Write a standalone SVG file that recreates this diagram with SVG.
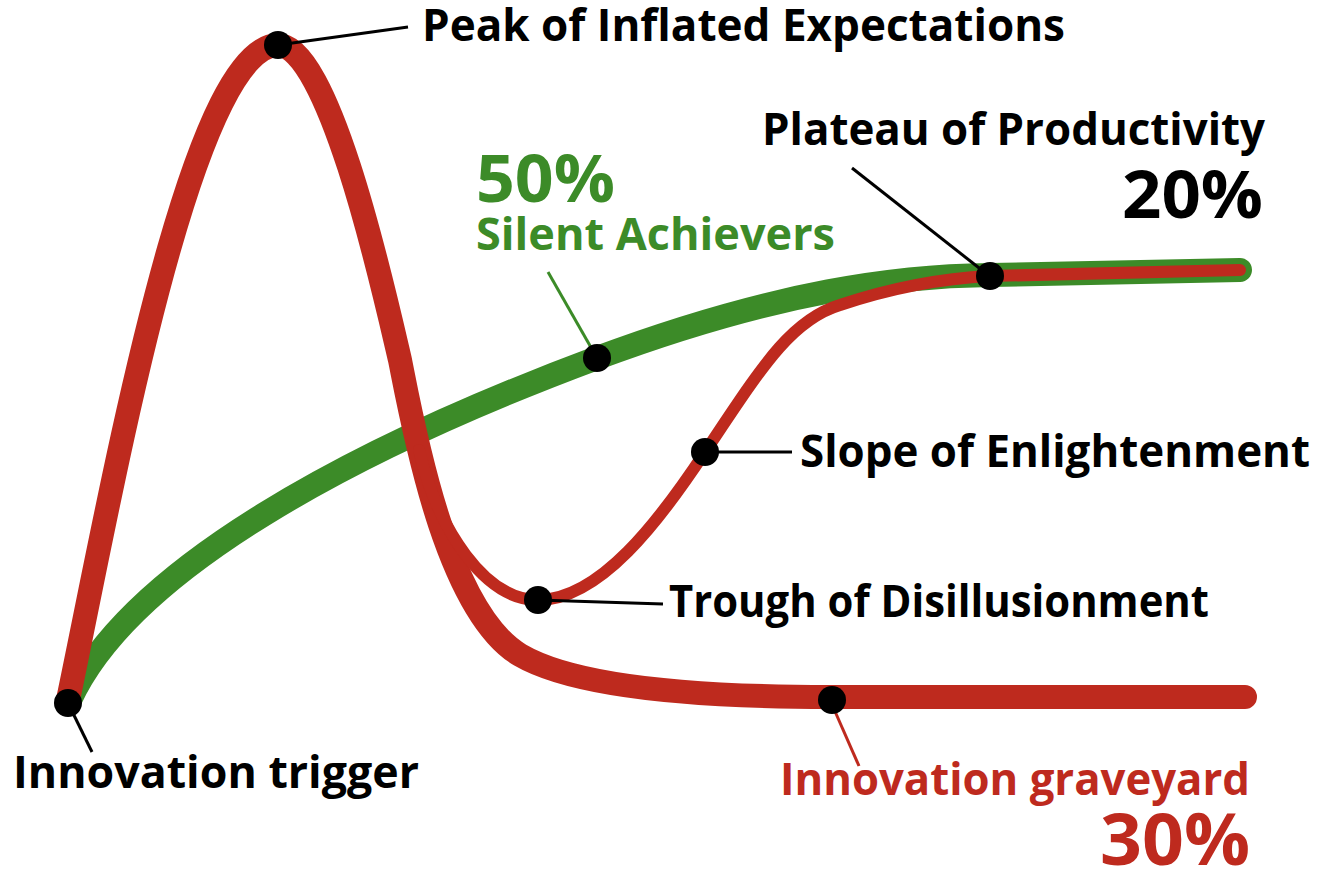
<svg xmlns="http://www.w3.org/2000/svg" width="1322" height="873" viewBox="0 0 1322 873">
<style>
.t{font-family:"Open Sans","Liberation Sans",sans-serif;font-weight:700;}
.lbl{font-size:44px;fill:#000;}
.big{font-size:67px;}
.lead{stroke:#000;stroke-width:3;fill:none;}
.dot{fill:#000;}
</style>
<rect width="1322" height="873" fill="#fff"/>
<g id="curves" fill="none" stroke-linecap="round" stroke-linejoin="round">
<path id="green-curve" d="M70,700 C130,570 350,450 597,358 C780,290 900,276 990,275 L1240,270" stroke="#3C8B28" stroke-width="24"/>
<path id="hype-curve" d="M68,700 C110,500 190,45 278,45 C330,45 385,296 400,360 C412,420 445,610 520,655 C580,690 720,697 830,697 L1245,697" stroke="#BE2A1E" stroke-width="24"/>
<path id="recovery-curve" d="M419,450 C438,530 485,600 538,600 C600,600 660,520 705,452 C760,370 790,320 840,305 C900,285 950,278 990,276 L1240,270" stroke="#BE2A1E" stroke-width="12"/>
</g>
<g id="connectors">
<line class="lead" x1="278" y1="45" x2="408" y2="27"/>
<line class="lead" x1="852" y1="168" x2="988" y2="275"/>
<line class="lead" x1="705" y1="452" x2="792" y2="452"/>
<line class="lead" x1="538" y1="600" x2="663" y2="604"/>
<line class="lead" x1="68" y1="703" x2="92" y2="752"/>
<line x1="548" y1="272" x2="597" y2="358" stroke="#3C8B28" stroke-width="3"/>
<line x1="830" y1="700" x2="859" y2="766" stroke="#BE2A1E" stroke-width="3"/>
</g>
<g id="node-peak"><circle class="dot" cx="278" cy="45" r="14"/><text class="t lbl" x="422" y="41" textLength="643" lengthAdjust="spacingAndGlyphs">Peak of Inflated Expectations</text></g>
<g id="node-plateau"><circle class="dot" cx="990" cy="276" r="14"/><text class="t lbl" x="762" y="145" textLength="503" lengthAdjust="spacingAndGlyphs">Plateau of Productivity</text><text class="t big" x="1122" y="218" textLength="141" lengthAdjust="spacingAndGlyphs" fill="#000">20%</text></g>
<g id="node-silent"><circle class="dot" cx="597" cy="358" r="14"/><text class="t big" x="476" y="202" textLength="139" lengthAdjust="spacingAndGlyphs" fill="#3C8B28">50%</text><text class="t lbl" x="476" y="250" textLength="359" lengthAdjust="spacingAndGlyphs" style="fill:#3C8B28">Silent Achievers</text></g>
<g id="node-slope"><circle class="dot" cx="705" cy="452" r="14"/><text class="t lbl" x="800" y="467" textLength="510" lengthAdjust="spacingAndGlyphs">Slope of Enlightenment</text></g>
<g id="node-trough"><circle class="dot" cx="538" cy="600" r="14"/><text class="t lbl" x="669" y="617" textLength="540" lengthAdjust="spacingAndGlyphs">Trough of Disillusionment</text></g>
<g id="node-trigger"><circle class="dot" cx="68" cy="703" r="14"/><text class="t lbl" x="13" y="788" textLength="406" lengthAdjust="spacingAndGlyphs">Innovation trigger</text></g>
<g id="node-graveyard"><circle class="dot" cx="832" cy="700" r="14"/><text class="t lbl" x="780" y="795" textLength="470" lengthAdjust="spacingAndGlyphs" style="fill:#BE2A1E">Innovation graveyard</text><text class="t" x="1100" y="865" font-size="72" textLength="150" lengthAdjust="spacingAndGlyphs" fill="#BE2A1E">30%</text></g>
</svg>
